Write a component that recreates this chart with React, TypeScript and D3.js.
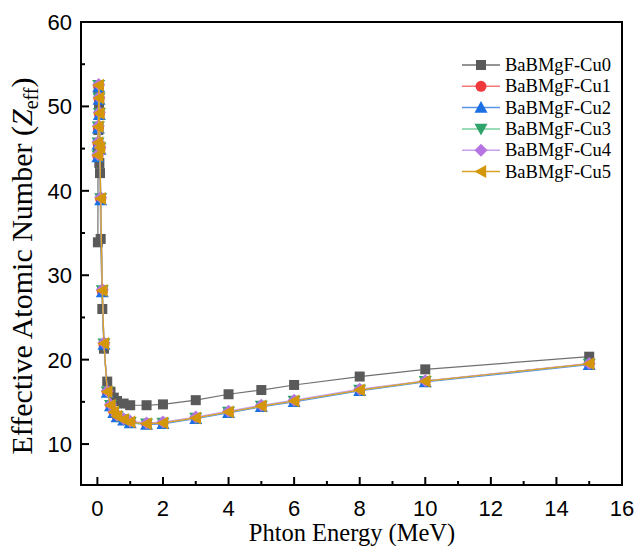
import React from "react";
import * as d3 from "d3";

// photon energies (MeV)
const energy = [0.015, 0.02, 0.03, 0.04, 0.05, 0.06, 0.08, 0.1, 0.15, 0.2, 0.3, 0.4, 0.5, 0.6, 0.8, 1, 1.5, 2, 3, 4, 5, 6, 8, 10, 15];

const cu0 = [33.9, 44.8, 47.2, 51.9, 50.4, 43.3, 42.1, 34.3, 26.0, 21.3, 17.4, 16.2, 15.5, 15.1, 14.8, 14.6, 14.6, 14.7, 15.2, 15.9, 16.4, 17.0, 18.0, 18.85, 20.35];
const cu1 = [44.1, 45.6, 47.5, 52.4, 50.9, 49.1, 45.0, 39.0, 28.1, 21.8, 16.2, 14.6, 13.8, 13.3, 12.9, 12.6, 12.4, 12.5, 13.1, 13.8, 14.5, 15.1, 16.4, 17.45, 19.5];
const cu2 = [44.0, 45.5, 47.4, 52.3, 50.8, 49.0, 44.9, 38.9, 28.0, 21.8, 16.1, 14.5, 13.7, 13.2, 12.8, 12.5, 12.3, 12.4, 13.0, 13.7, 14.4, 15.0, 16.3, 17.35, 19.4];
const cu3 = [44.2, 45.7, 47.6, 52.5, 51.0, 49.2, 45.1, 39.1, 28.2, 21.9, 16.2, 14.6, 13.8, 13.3, 12.9, 12.6, 12.4, 12.5, 13.1, 13.8, 14.5, 15.1, 16.4, 17.45, 19.5];
const cu4 = [44.3, 45.8, 47.7, 52.6, 51.1, 49.3, 45.2, 39.2, 28.3, 22.0, 16.3, 14.7, 13.9, 13.4, 13.0, 12.7, 12.5, 12.6, 13.2, 13.9, 14.6, 15.2, 16.5, 17.5, 19.55];
const cu5 = [44.2, 45.7, 47.6, 52.5, 51.0, 49.2, 45.1, 39.1, 28.2, 21.9, 16.2, 14.6, 13.8, 13.3, 12.9, 12.6, 12.4, 12.5, 13.1, 13.8, 14.5, 15.1, 16.4, 17.45, 19.5];

const seriesNames = ["BaBMgF-Cu0", "BaBMgF-Cu1", "BaBMgF-Cu2", "BaBMgF-Cu3", "BaBMgF-Cu4", "BaBMgF-Cu5"];
const seriesValues = [cu0, cu1, cu2, cu3, cu4, cu5];
const markerColors = ["#5a5a5a", "#f0393c", "#1c6fe3", "#2fa46a", "#b574e2", "#d4970c"];
const lineColors = ["#707070", "#f27a7a", "#5b93e8", "#79cfa0", "#c9a0ee", "#d9a227"];
const symbols = ["square", "circle", "up", "down", "diamond", "left"];

const xTicks = [0, 2, 4, 6, 8, 10, 12, 14, 16];
const xMinor = [1, 3, 5, 7, 9, 11, 13, 15];
const yTicks = [10, 20, 30, 40, 50, 60];
const yMinor = [15, 25, 35, 45, 55];

const W = 636, H = 546;
const L = 81, R = 622, T = 22, B = 485;

const x = d3.scaleLinear().domain([-0.5, 16]).range([L, R]);
const y = d3.scaleLinear().domain([5.15, 60]).range([B, T]);

const serif = "'Liberation Serif', 'Times New Roman', serif";
const sans = "'Liberation Sans', Arial, sans-serif";

function Marker({ kind, cx, cy, color }: { kind: string; cx: number; cy: number; color: string }) {
  if (kind === "square") return <rect x={cx - 5} y={cy - 5} width={10} height={10} fill={color} />;
  if (kind === "circle") return <circle cx={cx} cy={cy} r={5.5} fill={color} />;
  const s = 6.5;
  let pts: number[][] = [];
  if (kind === "up") pts = [[cx, cy - s], [cx + s, cy + s * 0.8], [cx - s, cy + s * 0.8]];
  if (kind === "down") pts = [[cx, cy + s], [cx + s, cy - s * 0.8], [cx - s, cy - s * 0.8]];
  if (kind === "diamond") pts = [[cx, cy - s], [cx + s, cy], [cx, cy + s], [cx - s, cy]];
  if (kind === "left") pts = [[cx - s, cy], [cx + s * 0.8, cy - s], [cx + s * 0.8, cy + s]];
  return <polygon points={pts.map((p) => p.join(",")).join(" ")} fill={color} />;
}

export default function App() {
  const line = d3
    .line<number>()
    .x((_, i) => x(energy[i]))
    .y((d) => y(d));

  return (
    <svg width={W} height={H} style={{ position: "absolute", left: 0, top: 0, background: "#fff" }}>
      {/* series */}
      {seriesValues.map((vals, s) => (
        <g key={seriesNames[s]}>
          <path d={line(vals) || ""} fill="none" stroke={lineColors[s]} strokeWidth={1.2} />
          {vals.map((v, i) => (
            <Marker key={i} kind={symbols[s]} cx={x(energy[i])} cy={y(v)} color={markerColors[s]} />
          ))}
        </g>
      ))}

      {/* frame */}
      <rect x={L} y={T} width={R - L} height={B - T} fill="none" stroke="#000" strokeWidth={2} />

      {/* x ticks */}
      {xTicks.map((t) => (
        <g key={"x" + t}>
          <line x1={x(t)} x2={x(t)} y1={B} y2={B - 8} stroke="#000" strokeWidth={2} />
          <text x={x(t)} y={B + 31} textAnchor="middle" fontFamily={sans} fontSize={22}>
            {t}
          </text>
        </g>
      ))}
      {xMinor.map((t) => (
        <line key={"xm" + t} x1={x(t)} x2={x(t)} y1={B} y2={B - 4} stroke="#000" strokeWidth={2} />
      ))}

      {/* y ticks */}
      {yTicks.map((t) => (
        <g key={"y" + t}>
          <line x1={L} x2={L + 8} y1={y(t)} y2={y(t)} stroke="#000" strokeWidth={2} />
          <text x={L - 9} y={y(t) + 8} textAnchor="end" fontFamily={sans} fontSize={22}>
            {t}
          </text>
        </g>
      ))}
      {yMinor.map((t) => (
        <line key={"ym" + t} x1={L} x2={L + 4} y1={y(t)} y2={y(t)} stroke="#000" strokeWidth={2} />
      ))}

      {/* axis titles */}
      <text x={352} y={541} textAnchor="middle" fontFamily={serif} fontSize={24.5}>
        Phton Energy (MeV)
      </text>
      <text
        transform={`translate(32, 266) rotate(-90)`}
        textAnchor="middle"
        fontFamily={serif}
        fontSize={30}
      >
        Effective Atomic Number (<tspan fontStyle="italic">Z</tspan>
        <tspan fontSize={20} dy={6}>eff</tspan>
        <tspan dy={-6}>)</tspan>
      </text>

      {/* legend */}
      {seriesNames.map((name, s) => {
        const ly = 65 + s * 21.3;
        return (
          <g key={"lg" + name}>
            <line x1={462} x2={500} y1={ly} y2={ly} stroke={lineColors[s]} strokeWidth={1.5} />
            <Marker kind={symbols[s]} cx={481} cy={ly} color={markerColors[s]} />
            <text x={505} y={ly + 6} fontFamily={serif} fontSize={18.5}>
              {name}
            </text>
          </g>
        );
      })}
    </svg>
  );
}
